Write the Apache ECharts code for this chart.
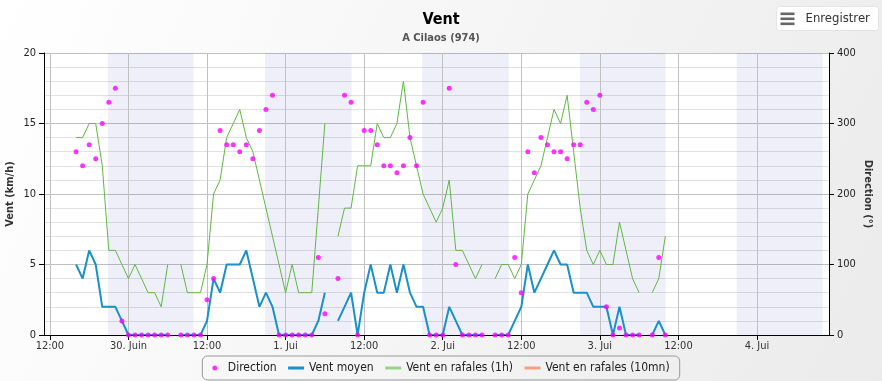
<!DOCTYPE html>
<html>
<head>
<meta charset="utf-8">
<script src="https://cdn.jsdelivr.net/npm/echarts@6/dist/echarts.min.js"></script>
<style>
html,body{margin:0;padding:0;background:#fff;}
#chart{width:882px;height:381px;}
</style>
</head>
<body>
<div id="chart"></div>
<script>
// Hours are counted from 29 June 00:00; first measurement at 29 June 16:00, hourly.
const firstHour = 16;

const windMean = [
  5,4,6,5,2,2,2,1,0,0,
  0,0,0,0,0,null,0,0,0,0,
  1,4,3,5,5,5,6,4,2,3,
  2,0,0,0,0,0,0,1,3,null,
  1,2,3,0,3,5,3,3,5,3,
  5,3,2,2,0,0,0,2,1,0,
  0,0,0,null,0,0,0,1,2,5,
  3,4,5,6,5,5,3,3,3,2,
  2,2,0,2,0,0,0,null,0,1,
  0
];

const windGust1h = [
  14,14,15,15,12,6,6,5,4,5,
  4,3,3,2,5,null,5,3,3,3,
  5,10,11,14,15,16,14,13,11,9,
  7,5,3,5,3,3,3,9,15,null,
  7,9,9,12,12,12,15,14,14,15,
  18,14,12,10,9,8,9,11,6,6,
  5,4,5,null,4,5,5,4,5,10,
  11,12,14,16,15,17,13,9,6,5,
  6,5,5,8,6,4,3,null,3,4,
  7
];

const windGust10mn = [];

const direction = [
  260,240,270,250,300,330,350,20,0,0,
  0,0,0,0,0,null,0,0,0,0,
  50,80,290,270,270,260,270,250,290,320,
  340,0,0,0,0,0,0,110,30,null,
  80,340,330,0,290,290,270,240,240,230,
  240,280,240,330,0,0,0,350,100,0,
  0,0,0,null,0,0,0,110,60,260,
  230,280,270,260,260,250,270,270,330,320,
  340,40,0,10,0,0,0,null,0,110,
  0
];

const xTickHours = [12,24,36,48,60,72,84,96,108,120];
const xTickLabels = ['12:00','30. Juin','12:00','1. Jui','12:00','2. Jui','12:00','3. Jui','12:00','4. Jui'];

// night shading [start, end] in hours from 29 June 00:00
const nightBands = [[20.85,33.95],[44.85,58.1],[68.85,82.1],[92.95,106.05],[116.9,130.05]];

const xMin = 11.1, xMax = 131;

const FONT = '"DejaVu Sans Condensed", "DejaVu Sans", sans-serif';

const toPairs = arr => arr.map((v,i) => [firstHour + i, v]);
const scatterPairs = direction.map((v,i) => [firstHour + i, v]).filter(p => p[1] !== null);

const chart = echarts.init(document.getElementById('chart'), null, {renderer:'canvas'});

const option = {
  animation: false,
  backgroundColor: {type:'linear', x:0, y:0, x2:1, y2:1,
    colorStops:[{offset:0,color:'#ffffff'},{offset:1,color:'#eaebea'}]},
  textStyle: {fontFamily: FONT},
  title: {
    text: 'Vent',
    subtext: 'A Cilaos (974)',
    left: 'center',
    top: 5,
    itemGap: 3,
    textStyle: {fontFamily: FONT, fontSize: 16, fontWeight: 'bold', color: '#000', lineHeight: 19},
    subtextStyle: {fontFamily: FONT, fontSize: 11, fontWeight: 'bold', color: '#555', lineHeight: 13}
  },
  legend: {
    left: 'center',
    top: 356,
    padding: [5, 10],
    itemGap: 10,
    itemWidth: 16,
    itemHeight: 5,
    borderColor: '#999',
    borderWidth: 1,
    borderRadius: 5,
    textStyle: {fontFamily: FONT, fontSize: 12, color: '#222', lineHeight: 14},
    data: [
      {name: 'Direction'},
      {name: 'Vent moyen', itemStyle: {opacity: 0}, lineStyle: {width: 3}},
      {name: 'Vent en rafales (1h)', itemStyle: {opacity: 0}, lineStyle: {width: 3, color: '#96d487'}},
      {name: 'Vent en rafales (10mn)', itemStyle: {opacity: 0}, lineStyle: {width: 3}}
    ]
  },
  grid: {
    left: 44, right: 53, top: 53, bottom: 46,
    outerBoundsMode: 'none',
    containLabel: false,
    show: true, backgroundColor: '#ffffff', borderWidth: 0
  },
  xAxis: [{
    type: 'value',
    min: xMin, max: xMax,
    z: 3,
    axisLine: {show: true, onZero: false, lineStyle: {color: '#000', width: 1}},
    axisTick: {show: true, length: 5, customValues: xTickHours, lineStyle: {color: '#000'}},
    splitLine: {show: false},
    axisLabel: {
      customValues: xTickHours,
      margin: 6,
      fontFamily: FONT, fontSize: 11, color: '#333',
      formatter: function (v) {
        const i = xTickHours.indexOf(Math.round(v));
        return i >= 0 ? xTickLabels[i] : '';
      }
    }
  }],
  yAxis: [{
    type: 'value',
    min: 0, max: 20, interval: 5,
    name: 'Vent (km/h)',
    nameLocation: 'middle',
    nameGap: 28,
    nameMoveOverlap: false,
    nameTextStyle: {fontFamily: FONT, fontSize: 11, fontWeight: 'bold', color: '#333'},
    axisLine: {show: true, lineStyle: {color: '#000', width: 1}},
    axisTick: {show: true, length: 5, lineStyle: {color: '#000'}},
    axisLabel: {margin: 8, fontFamily: FONT, fontSize: 11, color: '#222'},
    splitLine: {show: true, lineStyle: {color: '#c0c0c0', width: 1}},
    minorTick: {show: false, splitNumber: 5},
    minorSplitLine: {show: true, lineStyle: {color: '#e2e2e2', width: 1}}
  }, {
    type: 'value',
    min: 0, max: 400, interval: 100,
    position: 'right',
    name: 'Direction (°)',
    nameLocation: 'middle',
    nameRotate: -90,
    nameGap: 33,
    nameMoveOverlap: false,
    nameTextStyle: {fontFamily: FONT, fontSize: 11, fontWeight: 'bold', color: '#333'},
    axisLine: {show: true, lineStyle: {color: '#000', width: 1}},
    axisTick: {show: true, length: 5, lineStyle: {color: '#000'}},
    axisLabel: {margin: 8, fontFamily: FONT, fontSize: 11, color: '#222'},
    splitLine: {show: false}
  }],
  graphic: [{
    type: 'group', left: 776, top: 6, z: 100,
    children: [
      {type:'rect', shape:{x:0,y:0,width:102,height:24,r:3}, style:{fill:'#ffffff', stroke:'#e4e4e4', lineWidth:1}},
      {type:'rect', shape:{x:4,y:6,width:14,height:2.6}, style:{fill:'#666'}},
      {type:'rect', shape:{x:4,y:11,width:14,height:2.6}, style:{fill:'#666'}},
      {type:'rect', shape:{x:4,y:16,width:14,height:2.6}, style:{fill:'#666'}},
      {type:'text', x:29, y:12.5, style:{text:'Enregistrer', fontFamily: FONT, fontSize:13, fill:'#333', verticalAlign:'middle'}}
    ]
  }],
  series: [
    {
      name: 'bands',
      type: 'line',
      data: [],
      silent: true,
      markArea: {
        z: 1,
        silent: true,
        itemStyle: {color: 'rgba(0,0,175,0.064)'},
        data: nightBands.map(b => [{xAxis: b[0]}, {xAxis: b[1]}])
      },
      markLine: {
        z: 1,
        silent: true,
        symbol: ['none','none'],
        label: {show: false},
        lineStyle: {color: '#c0c0c0', type: 'solid', width: 1},
        data: xTickHours.map(h => ({xAxis: h}))
      }
    },
    {
      name: 'Vent en rafales (1h)',
      type: 'line',
      yAxisIndex: 0,
      data: toPairs(windGust1h),
      symbol: 'none',
      connectNulls: false,
      lineStyle: {color: '#5fb843', width: 1},
      itemStyle: {color: '#5fb843'},
      z: 2
    },
    {
      name: 'Vent moyen',
      type: 'line',
      yAxisIndex: 0,
      data: toPairs(windMean),
      symbol: 'none',
      connectNulls: false,
      lineStyle: {color: '#1890cc', width: 2},
      itemStyle: {color: '#1890cc'},
      z: 2
    },
    {
      name: 'Vent en rafales (10mn)',
      type: 'line',
      yAxisIndex: 0,
      data: windGust10mn,
      symbol: 'none',
      lineStyle: {color: '#f2a27e', width: 2},
      itemStyle: {color: '#f2a27e'}
    },
    {
      name: 'Direction',
      type: 'scatter',
      yAxisIndex: 1,
      data: scatterPairs,
      symbol: 'circle',
      symbolSize: 5,
      itemStyle: {color: '#ff00ff'},
      z: 4
    }
  ]
};

chart.setOption(option);
</script>
</body>
</html>
